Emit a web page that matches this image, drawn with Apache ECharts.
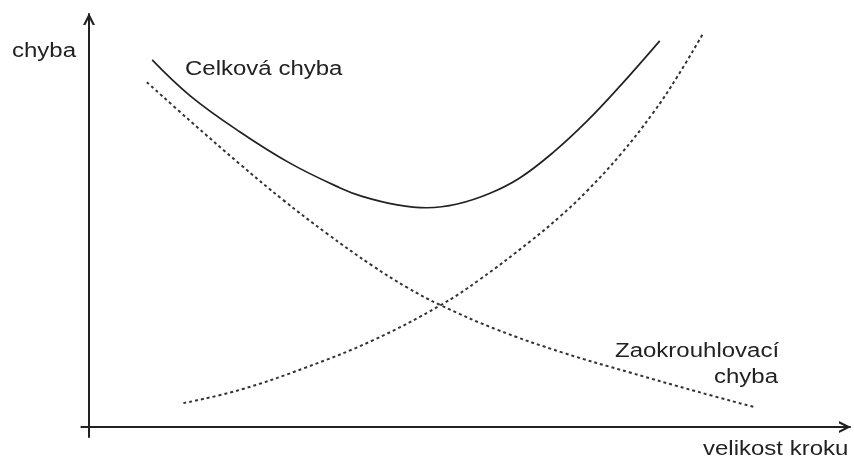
<!DOCTYPE html>
<html>
<head>
<meta charset="utf-8">
<script src="https://cdn.jsdelivr.net/npm/echarts@6/dist/echarts.min.js"></script>
<style>
  html, body { margin: 0; padding: 0; background: #fff; }
  #chart { width: 854px; height: 459px; }
</style>
</head>
<body>
<div id="chart"></div>
<script>
// Total error: truncation + rounding, over step size (arbitrary units 0–100)
const totalX = [8.3, 13.3, 19.8, 26.4, 33.0, 36.0, 40.5, 44.4, 48.4, 52.7, 56.6, 61.0, 65.4, 69.8, 75.0];
const totalY = [88.9, 80.2, 71.5, 63.9, 57.9, 55.8, 53.8, 53.1, 54.0, 56.6, 60.3, 66.5, 74.0, 82.6, 93.5];

// Rounding error decreasing with step size
const roundX = [7.6, 13.3, 19.8, 25.5, 31.3, 37.3, 41.8, 46.1, 53.6, 62.3, 71.1, 79.9, 87.3];
const roundY = [83.5, 74.1, 63.7, 55.0, 46.8, 39.0, 33.8, 29.6, 23.6, 18.0, 13.2, 8.6, 4.9];

// Truncation error increasing with step size
const truncX = [12.4, 19.8, 28.6, 37.3, 46.1, 51.4, 58.0, 61.9, 65.4, 69.8, 74.1, 77.3, 80.6];
const truncY = [5.8, 9.0, 14.5, 21.0, 29.4, 35.8, 45.0, 51.0, 57.1, 65.9, 76.0, 84.8, 95.0];

const labels = {
  yName: 'chyba',
  xName: 'velikost kroku',
  total: 'Celková chyba',
  roundLine1: 'Zaokrouhlovací',
  roundLine2: 'chyba'
};

const pairs = (xs, ys) => xs.map((x, i) => [x, ys[i]]);

const chart = echarts.init(document.getElementById('chart'), null, { renderer: 'canvas' });

// open chevron used as the arrow head at the end of each axis
const arrowPath = 'path://M0,10 L5,0 L10,10 L8,10 L5,4 L2,10 Z';
const axisColor = '#222';
const textFont = '20px "Liberation Sans", Arial, sans-serif';

function label(text, x, y) {
  return {
    type: 'text',
    x: x,
    y: y,
    scaleX: 1.2,
    style: { text: text, font: textFont, fill: '#222', align: 'left', verticalAlign: 'middle' }
  };
}

function axisLine() {
  return {
    onZero: true,
    symbol: ['none', arrowPath],
    symbolSize: [12, 12],
    symbolOffset: [0, -5],
    lineStyle: { color: axisColor, width: 2 }
  };
}

const dashed = { color: '#333', width: 2, type: [3, 3] };

chart.setOption({
  animation: false,
  backgroundColor: '#ffffff',
  grid: { left: 81.4, right: 4, top: 14, bottom: 22 },
  xAxis: {
    type: 'value',
    min: -1,
    max: 100,
    axisLine: axisLine(),
    axisTick: { show: false },
    axisLabel: { show: false },
    splitLine: { show: false }
  },
  yAxis: {
    type: 'value',
    min: -2.4,
    max: 100,
    axisLine: axisLine(),
    axisTick: { show: false },
    axisLabel: { show: false },
    splitLine: { show: false }
  },
  series: [
    {
      name: labels.total,
      type: 'line',
      data: pairs(totalX, totalY),
      smooth: 0.4,
      showSymbol: false,
      lineStyle: { color: '#222', width: 1.7 }
    },
    {
      name: 'round',
      type: 'line',
      data: pairs(roundX, roundY),
      smooth: 0.4,
      showSymbol: false,
      lineStyle: dashed
    },
    {
      name: 'trunc',
      type: 'line',
      data: pairs(truncX, truncY),
      smooth: 0.4,
      showSymbol: false,
      lineStyle: dashed
    }
  ],
  graphic: [
    label(labels.yName, 12, 51),
    label(labels.total, 185, 69),
    label(labels.roundLine1, 615, 351),
    label(labels.roundLine2, 714, 377),
    label(labels.xName, 703, 449)
  ]
});
</script>
</body>
</html>
